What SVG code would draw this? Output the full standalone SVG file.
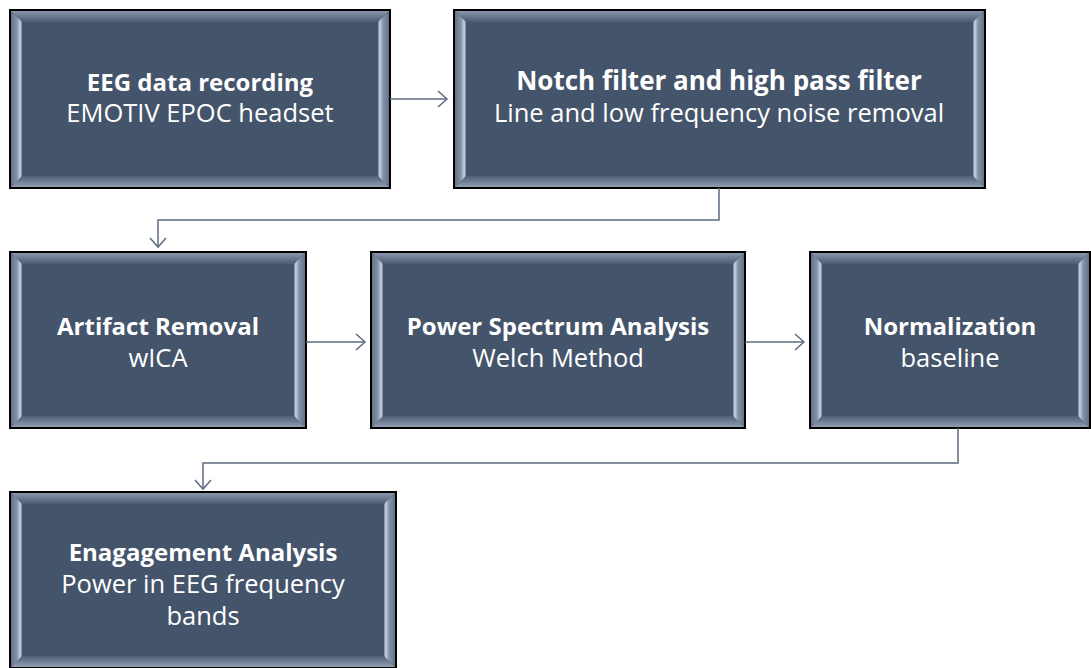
<svg xmlns="http://www.w3.org/2000/svg" width="1091" height="668" viewBox="0 0 1091 668">
<defs>
  <linearGradient id="gTop" x1="0" y1="0" x2="0" y2="1">
    <stop offset="0" stop-color="#8f9cb0"/>
    <stop offset="1" stop-color="#4b5b72"/>
  </linearGradient>
  <linearGradient id="gBot" x1="0" y1="0" x2="0" y2="1">
    <stop offset="0" stop-color="#4d5d74"/>
    <stop offset="1" stop-color="#98a5b8"/>
  </linearGradient>
  <linearGradient id="gLeft" x1="0" y1="0" x2="1" y2="0">
    <stop offset="0" stop-color="#5d6c83"/>
    <stop offset="0.6" stop-color="#8795aa"/>
    <stop offset="0.85" stop-color="#c8d4e6"/>
    <stop offset="1" stop-color="#6f7f96"/>
  </linearGradient>
  <linearGradient id="gRight" x1="1" y1="0" x2="0" y2="0">
    <stop offset="0" stop-color="#5d6c83"/>
    <stop offset="0.6" stop-color="#8795aa"/>
    <stop offset="0.85" stop-color="#c8d4e6"/>
    <stop offset="1" stop-color="#6f7f96"/>
  </linearGradient>
  <marker id="arr" markerWidth="12" markerHeight="20" refX="10" refY="10" orient="auto" markerUnits="userSpaceOnUse">
    <path d="M1,2 L10,10 L1,18" fill="none" stroke="#5c6b80" stroke-width="1.5"/>
  </marker>
</defs>
<style>
  .face { fill: #44546a; }
  .edge { fill: none; stroke: #000; stroke-width: 2; }
  .t { fill: #ffffff; font-family: "Open Sans", "Liberation Sans", sans-serif; font-size: 25.5px; text-anchor: middle; }
  .b { font-weight: bold; font-size: 24px; }
  .big { font-size: 26px; }
  .conn { fill: none; stroke: #5c6b80; stroke-width: 1.5; }
</style>

<g id="node-eeg-recording">
  <rect class="face" x="10" y="10" width="380" height="178"/>
  <path d="M10,10 H390 L378,22 H22 Z" fill="url(#gTop)"/>
  <path d="M10,188 H390 L378,176 H22 Z" fill="url(#gBot)"/>
  <path d="M10,10 L22,22 V176 L10,188 Z" fill="url(#gLeft)"/>
  <path d="M390,10 L378,22 V176 L390,188 Z" fill="url(#gRight)"/>
  <rect class="edge" x="10" y="10" width="380" height="178"/>
  <text class="t b" x="200" y="91">EEG data recording</text>
  <text class="t" x="200" y="122">EMOTIV EPOC headset</text>
</g>

<g id="node-notch-filter">
  <rect class="face" x="454" y="10" width="531" height="178"/>
  <path d="M454,10 H985 L973,22 H466 Z" fill="url(#gTop)"/>
  <path d="M454,188 H985 L973,176 H466 Z" fill="url(#gBot)"/>
  <path d="M454,10 L466,22 V176 L454,188 Z" fill="url(#gLeft)"/>
  <path d="M985,10 L973,22 V176 L985,188 Z" fill="url(#gRight)"/>
  <rect class="edge" x="454" y="10" width="531" height="178"/>
  <text class="t b big" x="719" y="90">Notch filter and high pass filter</text>
  <text class="t" x="719" y="122">Line and low frequency noise removal</text>
</g>

<g id="node-artifact-removal">
  <rect class="face" x="10" y="252" width="296" height="176"/>
  <path d="M10,252 H306 L294,264 H22 Z" fill="url(#gTop)"/>
  <path d="M10,428 H306 L294,416 H22 Z" fill="url(#gBot)"/>
  <path d="M10,252 L22,264 V416 L10,428 Z" fill="url(#gLeft)"/>
  <path d="M306,252 L294,264 V416 L306,428 Z" fill="url(#gRight)"/>
  <rect class="edge" x="10" y="252" width="296" height="176"/>
  <text class="t b" x="158" y="335">Artifact Removal</text>
  <text class="t" x="158" y="367">wICA</text>
</g>

<g id="node-power-spectrum">
  <rect class="face" x="371" y="252" width="374" height="176"/>
  <path d="M371,252 H745 L733,264 H383 Z" fill="url(#gTop)"/>
  <path d="M371,428 H745 L733,416 H383 Z" fill="url(#gBot)"/>
  <path d="M371,252 L383,264 V416 L371,428 Z" fill="url(#gLeft)"/>
  <path d="M745,252 L733,264 V416 L745,428 Z" fill="url(#gRight)"/>
  <rect class="edge" x="371" y="252" width="374" height="176"/>
  <text class="t b" x="558" y="335">Power Spectrum Analysis</text>
  <text class="t" x="558" y="367">Welch Method</text>
</g>

<g id="node-normalization">
  <rect class="face" x="810" y="252" width="280" height="176"/>
  <path d="M810,252 H1090 L1078,264 H822 Z" fill="url(#gTop)"/>
  <path d="M810,428 H1090 L1078,416 H822 Z" fill="url(#gBot)"/>
  <path d="M810,252 L822,264 V416 L810,428 Z" fill="url(#gLeft)"/>
  <path d="M1090,252 L1078,264 V416 L1090,428 Z" fill="url(#gRight)"/>
  <rect class="edge" x="810" y="252" width="280" height="176"/>
  <text class="t b" x="950" y="335">Normalization</text>
  <text class="t" x="950" y="367">baseline</text>
</g>

<g id="node-engagement-analysis">
  <rect class="face" x="10" y="492" width="386" height="176"/>
  <path d="M10,492 H396 L384,504 H22 Z" fill="url(#gTop)"/>
  <path d="M10,668 H396 L384,656 H22 Z" fill="url(#gBot)"/>
  <path d="M10,492 L22,504 V656 L10,668 Z" fill="url(#gLeft)"/>
  <path d="M396,492 L384,504 V656 L396,668 Z" fill="url(#gRight)"/>
  <rect class="edge" x="10" y="492" width="386" height="176"/>
  <text class="t b" x="203" y="561">Enagagement Analysis</text>
  <text class="t" x="203" y="593">Power in EEG frequency</text>
  <text class="t" x="203" y="625">bands</text>
</g>

<g id="connectors">
  <path class="conn" d="M390,99 H447" marker-end="url(#arr)"/>
  <path class="conn" d="M719,188 V220 H158 V247" marker-end="url(#arr)"/>
  <path class="conn" d="M306,342 H365" marker-end="url(#arr)"/>
  <path class="conn" d="M745,342 H804" marker-end="url(#arr)"/>
  <path class="conn" d="M958,428 V463 H203 V489" marker-end="url(#arr)"/>
</g>
</svg>
